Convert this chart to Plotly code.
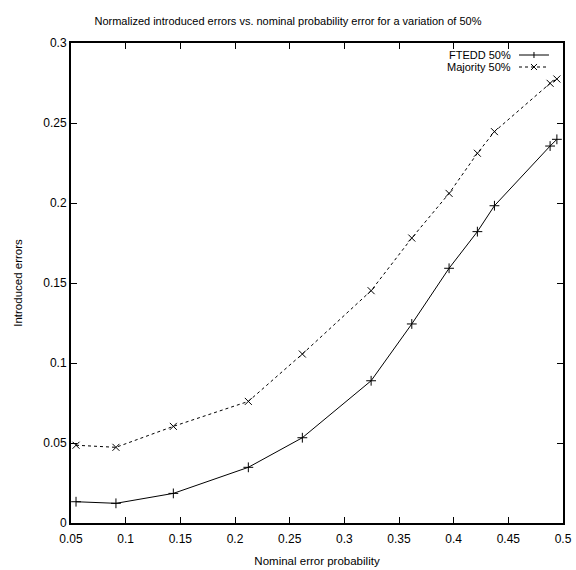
import plotly.graph_objects as go

x_nominal = [0.0546, 0.0911, 0.1436, 0.2122, 0.2616, 0.3245, 0.3617, 0.3958, 0.4217, 0.4373, 0.4882, 0.4944]
ftedd_50 = [0.0133, 0.0123, 0.0185, 0.0348, 0.0533, 0.0889, 0.1244, 0.1592, 0.1821, 0.1983, 0.2356, 0.2398]
majority_50 = [0.0486, 0.0473, 0.0604, 0.0760, 0.1056, 0.1452, 0.1781, 0.2060, 0.2311, 0.2446, 0.2748, 0.2775]

x_ticks = [0.05, 0.1, 0.15, 0.2, 0.25, 0.3, 0.35, 0.4, 0.45, 0.5]
x_ticklabels = ["0.05", "0.1", "0.15", "0.2", "0.25", "0.3", "0.35", "0.4", "0.45", "0.5"]
y_ticks = [0, 0.05, 0.1, 0.15, 0.2, 0.25, 0.3]
y_ticklabels = ["0", "0.05", "0.1", "0.15", "0.2", "0.25", "0.3"]

series_names = ["FTEDD 50%", "Majority 50%"]

FONT = "Liberation Sans Narrow, Arial Narrow, Liberation Sans, sans-serif"

fig = go.Figure()
fig.add_trace(go.Scatter(
    x=x_nominal, y=ftedd_50, mode="lines+markers", name=series_names[0],
    line=dict(color="black", width=1),
    marker=dict(symbol="cross-thin", size=7, line=dict(color="black", width=1)),
    showlegend=False))
fig.add_trace(go.Scatter(
    x=x_nominal, y=majority_50, mode="lines+markers", name=series_names[1],
    line=dict(color="black", width=1, dash="3px,3px"),
    marker=dict(symbol="x-thin", size=7, line=dict(color="black", width=1)),
    showlegend=False))

# manual gnuplot-style legend (text left, sample right)
rows = [0.975, 0.950]
dashes = ["solid", "3px,3px"]
for i, (name, ry) in enumerate(zip(series_names, rows)):
    fig.add_annotation(xref="paper", yref="paper", x=0.898, y=ry, text=name,
                       showarrow=False, xanchor="right", yanchor="middle",
                       font=dict(family=FONT, size=11, color="black"))
    fig.add_shape(type="line", xref="paper", yref="paper", x0=0.9106, x1=0.9715,
                  y0=ry, y1=ry, line=dict(color="black", width=1, dash=dashes[i]))
    dx, dy = 0.0061, 0.0063
    if i == 0:
        fig.add_shape(type="line", xref="paper", yref="paper", x0=0.941, x1=0.941,
                      y0=ry - dy, y1=ry + dy, line=dict(color="black", width=1))
    else:
        fig.add_shape(type="line", xref="paper", yref="paper", x0=0.941 - dx, x1=0.941 + dx,
                      y0=ry - dy, y1=ry + dy, line=dict(color="black", width=1))
        fig.add_shape(type="line", xref="paper", yref="paper", x0=0.941 - dx, x1=0.941 + dx,
                      y0=ry + dy, y1=ry - dy, line=dict(color="black", width=1))

axis_common = dict(showgrid=False, zeroline=False, showline=True, linecolor="black",
                   linewidth=2, mirror="ticks", ticks="inside", ticklen=6,
                   tickcolor="black", tickwidth=1, automargin=False,
                   tickfont=dict(family=FONT, size=12, color="black"))

fig.update_xaxes(range=[0.05, 0.5], tickvals=x_ticks, ticktext=x_ticklabels,
                 ticklabelstandoff=4,
                 title=dict(text="Nominal error probability", standoff=12,
                            font=dict(family=FONT, size=11.5, color="black")),
                 **axis_common)
fig.update_yaxes(range=[0, 0.3], tickvals=y_ticks, ticktext=y_ticklabels,
                 title=dict(text="Introduced errors", standoff=18,
                            font=dict(family=FONT, size=11.5, color="black")),
                 **axis_common)

fig.update_layout(
    width=576, height=570,
    margin=dict(l=71, r=13, t=43, b=47),
    paper_bgcolor="white", plot_bgcolor="white",
    title=dict(text="Normalized introduced errors vs. nominal probability error for a variation of 50%",
               x=0.5, xanchor="center", y=1 - 21 / 570, yanchor="middle",
               font=dict(family=FONT, size=11, color="black")),
)

fig.write_html("out.html")
